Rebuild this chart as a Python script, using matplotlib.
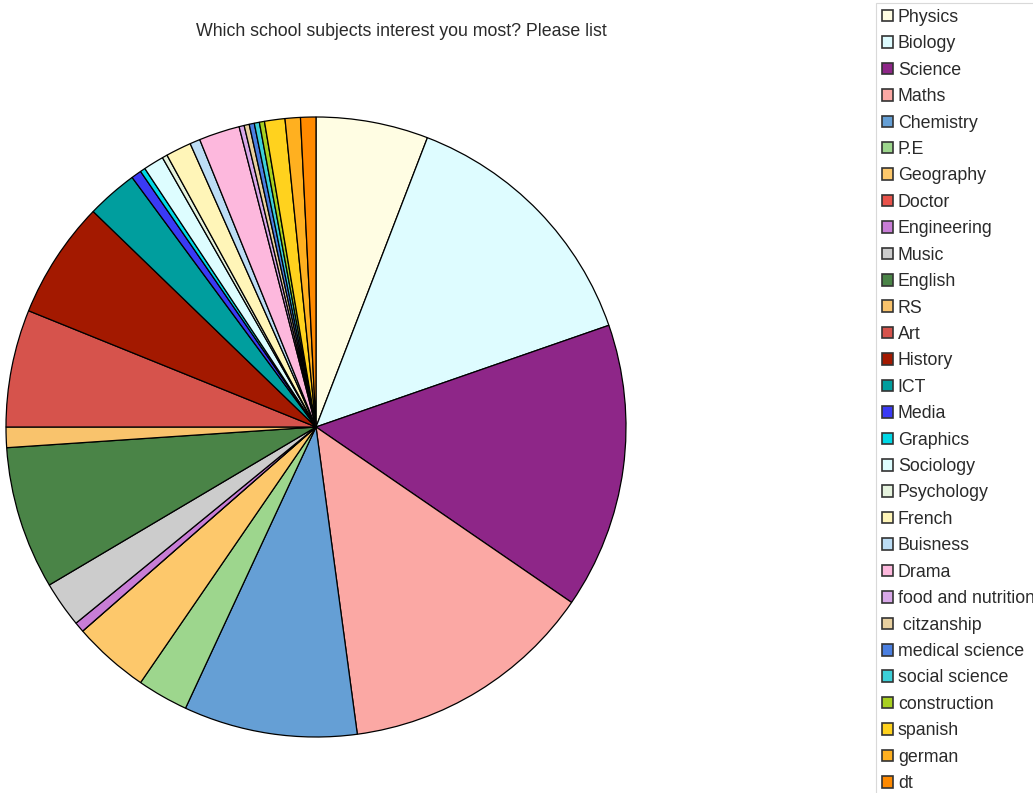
import matplotlib
matplotlib.use("Agg")
import matplotlib.pyplot as plt
from matplotlib.patches import Patch

plt.rcParams['font.family'] = ['Liberation Sans', 'DejaVu Sans']

title = "Which school subjects interest you most? Please list"

subjects = ["Physics", "Biology", "Science", "Maths", "Chemistry", "P.E", "Geography",
            "Doctor", "Engineering", "Music", "English", "RS", "Art", "History", "ICT",
            "Media", "Graphics", "Sociology", "Psychology", "French", "Buisness", "Drama",
            "food and nutrition", " citzanship", "medical science", "social science",
            "construction", "spanish", "german", "dt"]

counts = [22, 52, 56, 50, 34, 10, 15,
          0, 2, 9, 28, 4, 23, 23, 10,
          2, 1, 4, 1, 5, 2, 8,
          1, 1, 1, 1,
          1, 4, 3, 3]

colors = ["#FFFDE3", "#DEFCFF", "#8E2688", "#FBA8A4", "#659FD5", "#9DD68D", "#FDC86B",
          "#E8524A", "#C87DD6", "#CCCCCC", "#4A8447", "#F9C36C", "#D6534C", "#A31900", "#009E9E",
          "#3A3AF5", "#00D8E6", "#DDFDFF", "#E6F3DE", "#FFF5B8", "#BCDDF5", "#FDB8DD",
          "#D8A8E8", "#E8D0A0", "#4A7FE0", "#3CCFD8",
          "#A8D020", "#FFD21E", "#FFB020", "#FF8A00"]

W, H = 1033, 793
fig = plt.figure(figsize=(W / 100, H / 100), dpi=100)

cx, cy, r = 316, 427, 310
ax = fig.add_axes([(cx - r) / W, (H - cy - r) / H, 2 * r / W, 2 * r / H])
wedges, _ = ax.pie(counts, colors=colors, startangle=90, counterclock=False,
                   radius=1.0,
                   wedgeprops=dict(edgecolor="black", linewidth=0.9))
for w in wedges:
    w.set_clip_on(False)
ax.set_xlim(-1, 1)
ax.set_ylim(-1, 1)
ax.set_aspect("equal")
ax.axis("off")

fig.text(401 / W, 1 - 32 / H, title, ha="center", va="center", fontsize=12.8, color="#2A2A2A")

handles = [Patch(facecolor=c, edgecolor="#333333", linewidth=1.2) for c in colors]
leg = fig.legend(handles, subjects, loc="upper left",
                 bbox_to_anchor=(876 / W, 1 - 3 / H), fontsize=12.8,
                 frameon=True, fancybox=False, edgecolor="#D0D0D0",
                 handlelength=0.62, handleheight=0.62, handletextpad=0.28,
                 labelspacing=0.53, borderpad=0.33, borderaxespad=0)
leg.get_frame().set_linewidth(0.8)
for t in leg.get_texts():
    t.set_color("#2A2A2A")

fig.savefig("out.png", dpi=100)
